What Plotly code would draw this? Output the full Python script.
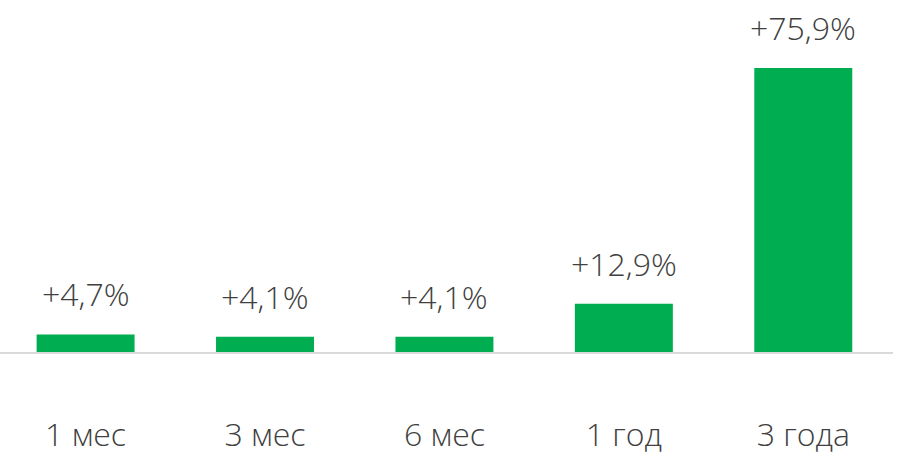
import plotly.graph_objects as go

categories = ["1 мес", "3 мес", "6 мес", "1 год", "3 года"]
values = [4.7, 4.1, 4.1, 12.9, 75.9]
value_labels = ["+4,7%", "+4,1%", "+4,1%", "+12,9%", "+75,9%"]

GREEN = "#00ad50"
TEXT = "#404040"
FONT = "Open Sans"

fig = go.Figure()
fig.add_trace(go.Bar(
    x=categories, y=values,
    marker=dict(color=GREEN, line=dict(width=0)),
    width=0.546,
    hoverinfo="skip",
))

for c, v, t in zip(categories, values, value_labels):
    fig.add_annotation(
        x=c, y=v, text=t, showarrow=False,
        xref="x", yref="y", yanchor="bottom",
        yshift=17,
        font=dict(family=FONT, size=32, color=TEXT, weight=300),
    )

fig.update_layout(
    width=905, height=461,
    margin=dict(l=0, r=12, t=0, b=109),
    paper_bgcolor="white", plot_bgcolor="white",
    showlegend=False,
    xaxis=dict(
        range=[-0.477, 4.5],
        showline=True, linecolor="#d9d9d9", linewidth=2,
        showgrid=False, zeroline=False, ticks="",
        tickfont=dict(family=FONT, size=32, color=TEXT, weight=300),
        ticklabelstandoff=54,
    ),
    yaxis=dict(
        range=[0, 94.07], visible=False, showgrid=False, zeroline=False,
    ),
)

fig.write_html("out.html", config={"displayModeBar": False},
               post_script="document.body.style.margin='0';")
